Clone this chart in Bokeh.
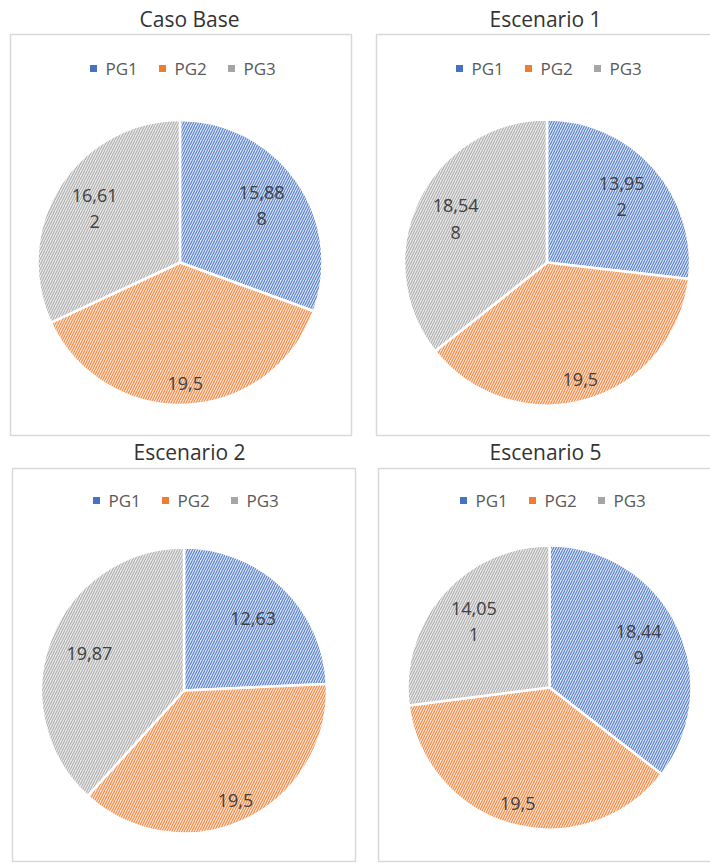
import math
from bokeh.plotting import figure
from bokeh.models import Range1d, ColumnDataSource
from bokeh.core.properties import value
from bokeh.embed import file_html
from bokeh.resources import INLINE

# ---- data ----
SCENARIOS = ["Caso Base", "Escenario 1", "Escenario 2", "Escenario 5"]
SERIES = ["PG1", "PG2", "PG3"]
PG1 = [15.888, 13.952, 12.63, 18.449]
PG2 = [19.5, 19.5, 19.5, 19.5]
PG3 = [16.612, 18.548, 19.87, 14.051]

# ---- style / layout ----
W, H = 710, 863
BASE = ["#4472C4", "#ED7D31", "#A5A5A5"]
TINT = ["#DCE4F4", "#FBE3D3", "#EBEBEB"]
LABEL_R = [0.70, 0.85, 0.71]
FONT = "Open Sans"
# panel: box (x0, y0, x1, y1), pie centre, radius, title centre, legend centre (screen px, y down)
PANELS = [
    dict(box=(10, 34, 351, 435), c=(179.5, 262), r=142.5, t=(189, 18), lg=(185, 68)),
    dict(box=(376, 34, 716, 435), c=(546.5, 262), r=143, t=(545, 18), lg=(551, 68)),
    dict(box=(12, 468, 355, 861), c=(183.5, 690), r=143, t=(189, 451), lg=(188, 500)),
    dict(box=(378, 468, 716, 861), c=(549, 687), r=142, t=(545, 451), lg=(555, 500)),
]


def fy(y):
    return H - y


def fmt(v):
    s = f"{v:g}".replace(".", ",")
    return s[:5] + "\n" + s[5:] if len(s) > 5 else s


p = figure(width=W, height=H, x_range=Range1d(0, W), y_range=Range1d(0, H),
           output_backend="svg", toolbar_location=None, min_border=0)
p.axis.visible = False
p.grid.visible = False
p.outline_line_color = None
p.background_fill_color = "white"

for k, name in enumerate(SCENARIOS):
    pan = PANELS[k]
    x0, y0, x1, y1 = pan["box"]
    p.quad(left=[x0], right=[x1], top=[fy(y0)], bottom=[fy(y1)],
           fill_color=None, line_color="#D9D9D9", line_width=1.5)

    vals = [PG1[k], PG2[k], PG3[k]]
    tot = sum(vals)
    cx, cy = pan["c"]
    R = pan["r"]
    starts, ends, lx, ly, labs = [], [], [], [], []
    acc = 0.0
    for i, v in enumerate(vals):
        a0 = acc / tot
        acc += v
        a1 = acc / tot
        starts.append(math.pi / 2 - 2 * math.pi * a1)
        ends.append(math.pi / 2 - 2 * math.pi * a0)
        m = (a0 + a1) / 2
        th = math.pi / 2 - 2 * math.pi * m
        lx.append(cx + LABEL_R[i] * R * math.cos(th))
        ly.append(fy(cy) + LABEL_R[i] * R * math.sin(th))
        labs.append(fmt(v))

    src = ColumnDataSource(dict(s=starts, e=ends, fc=TINT, hc=BASE))
    p.wedge(x=cx, y=fy(cy), radius=R, start_angle="s", end_angle="e", source=src,
            fill_color="fc", hatch_color="hc", hatch_pattern="/", hatch_scale=5,
            hatch_weight=1.1, hatch_alpha=0.9, line_color="white", line_width=2.5)

    p.text(x=lx, y=ly, text=labs, text_align="center", text_baseline="middle",
           text_font=value(FONT), text_font_size="18px", text_color="#404040",
           text_line_height=1.1)

    # title
    tx, ty = pan["t"]
    p.text(x=[tx], y=[fy(ty)], text=[name], text_align="center", text_baseline="middle",
           text_font=value(FONT), text_font_size="21px", text_color="#333333")

    # legend
    gx, gy = pan["lg"]
    mx = [gx - 92 + i * 69 for i in range(len(SERIES))]
    p.scatter(x=mx, y=[fy(gy)] * 3, marker="square", size=7, color=BASE, line_color=None)
    p.text(x=[m + 12 for m in mx], y=[fy(gy)] * 3, text=SERIES, text_align="left",
           text_baseline="middle", text_font=value(FONT), text_font_size="17px",
           text_color="#595959")

open("out.html", "w").write(file_html(p, INLINE))
